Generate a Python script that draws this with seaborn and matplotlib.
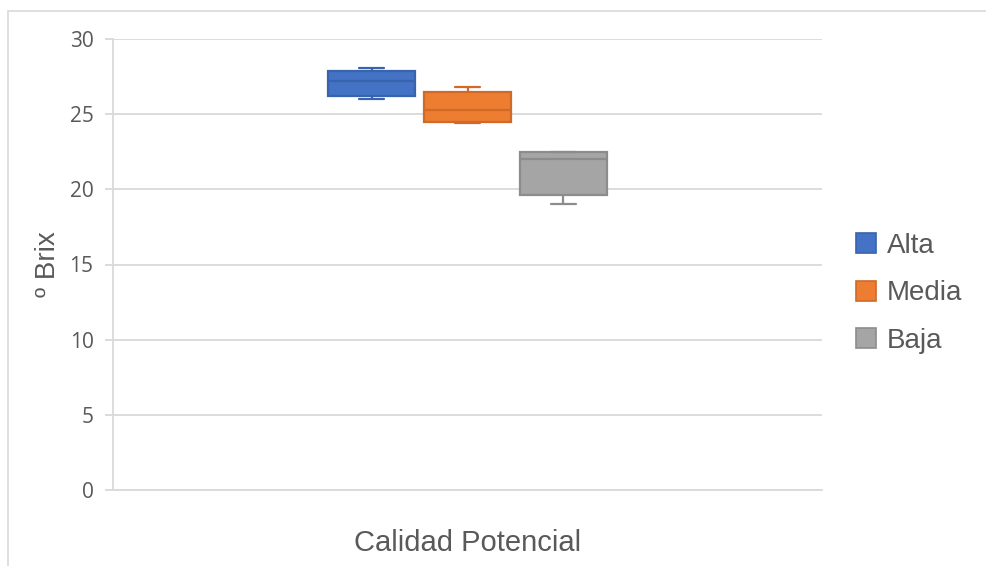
import numpy as np
import pandas as pd
import seaborn as sns
import matplotlib
matplotlib.use("Agg")
import matplotlib.pyplot as plt
from matplotlib.patches import Rectangle, Patch, PathPatch

# ---- data ----
categories = ["Alta", "Media", "Baja"]
alta_values = [26.0, 26.2, 27.2, 27.9, 28.1]
media_values = [24.4, 24.5, 25.3, 26.5, 26.8]
baja_values = [19.0, 19.6, 22.0, 22.5, 22.5]
group_label = "Calidad Potencial"
y_label = "º Brix"
y_ticks = [0, 5, 10, 15, 20, 25, 30]

fill_colors = {"Alta": "#4472C4", "Media": "#ED7D31", "Baja": "#A5A5A5"}
edge_colors = {"Alta": "#3A63AD", "Media": "#D06A26", "Baja": "#8C8C8C"}

values = {"Alta": alta_values, "Media": media_values, "Baja": baja_values}
rows = []
for c in categories:
    for v in values[c]:
        rows.append({"grupo": "", "calidad": c, "valor": v})
df = pd.DataFrame(rows)

sns.set_theme(style="white")
plt.rcParams["font.family"] = ["Liberation Sans", "DejaVu Sans"]

fig = plt.figure(figsize=(9.86, 5.66), dpi=100)
ax = fig.add_axes([113 / 986, 1 - 490 / 566, (822 - 113) / 986, (490 - 39) / 566])

sns.boxplot(
    data=df, x="grupo", y="valor", hue="calidad", hue_order=categories,
    palette=fill_colors, linewidth=1.6, dodge=True,
    width=0.406, gap=0.09, fliersize=0, whis=1.5, legend=False,
    capwidths=0.036, ax=ax,
)

# recolor edges per group: match artists by x-position
box_patches = [p for p in ax.patches]
centers = []
for p in box_patches:
    verts = p.get_path().vertices
    verts = p.get_transform().transform(verts)
    verts = ax.transData.inverted().transform(verts)
    centers.append((verts[:, 0].min() + verts[:, 0].max()) / 2)
order = np.argsort(centers)
sorted_centers = [centers[i] for i in order]
for rank, i in enumerate(order):
    c = categories[rank]
    box_patches[i].set_facecolor(fill_colors[c])
    box_patches[i].set_edgecolor(edge_colors[c])
for line in ax.lines:
    xd = np.asarray(line.get_xdata(), dtype=float)
    if xd.size == 0:
        continue
    xm = np.nanmean(xd)
    rank = int(np.argmin([abs(xm - s) for s in sorted_centers]))
    line.set_color(edge_colors[categories[rank]])

ax.set_xlim(-0.5, 0.5)
ax.set_ylim(0, 30)
ax.set_yticks(y_ticks)
ax.set_yticklabels([str(t) for t in y_ticks], fontsize=15, color="#595959",
                   family=["Open Sans", "DejaVu Sans"])
ax.set_xticks([])
ax.yaxis.grid(True, color="#D9D9D9", linewidth=1.3)
ax.set_axisbelow(True)
for side in ["top", "right"]:
    ax.spines[side].set_visible(False)
for side in ["left", "bottom"]:
    ax.spines[side].set_color("#D9D9D9")
    ax.spines[side].set_linewidth(1.3)
ax.tick_params(axis="y", length=6, width=1.3, color="#D9D9D9", pad=8, left=True)

ax.set_xlabel(group_label, fontsize=21, color="#595959", labelpad=28)
ax.set_ylabel(y_label, fontsize=20, color="#595959", labelpad=6)

# outer chart border
fig.patches.append(Rectangle((8 / 986, -0.2), 1.2, 1.2 + (1 - 10.5 / 566) - 1.0,
                             transform=fig.transFigure, fill=False,
                             edgecolor="#D9D9D9", linewidth=1.2))

handles = [Patch(facecolor=fill_colors[c], edgecolor=edge_colors[c], linewidth=1.2)
           for c in categories]
fig.legend(handles, categories, loc="upper left",
           bbox_to_anchor=(856 / 986, 1 - 233 / 566), frameon=False,
           fontsize=20, labelcolor="#595959", handlelength=0.72,
           handleheight=0.72, handletextpad=0.4, labelspacing=0.77,
           borderpad=0, borderaxespad=0)

fig.savefig("out.png", dpi=100)
